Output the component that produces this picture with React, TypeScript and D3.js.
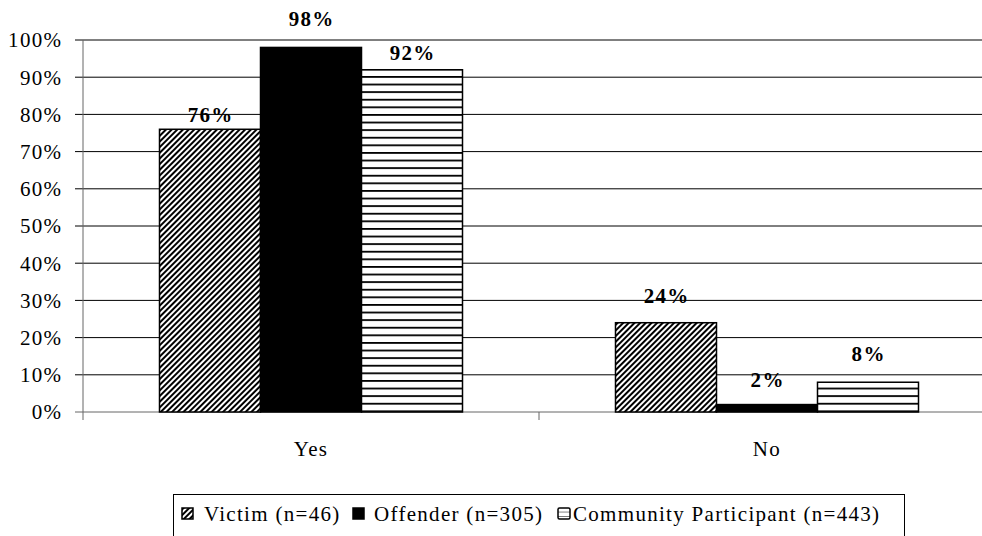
import React from "react";
import * as d3 from "d3";

const categories = ["Yes", "No"];
const seriesNames = ["Victim (n=46)", "Offender (n=305)", "Community Participant (n=443)"];
const victimValues = [76, 24];
const offenderValues = [98, 2];
const communityValues = [92, 8];
const yTicks = [0, 10, 20, 30, 40, 50, 60, 70, 80, 90, 100];
// vertical gap between the bar top and its label baseline (Excel-style placement)
const labelGaps = [[7, 20], [21, 18], [10, 21]];

const W = 982;
const H = 536;
const margin = { left: 83, right: -13, top: 40, bottom: 124 };
const FONT = "Liberation Serif, Times New Roman, DejaVu Serif, serif";
const LS = 1.3;

export default function App() {
  const series = [victimValues, offenderValues, communityValues];
  const fills = ["url(#diag)", "#000", "url(#horiz)"];
  const x0 = d3.scaleBand().domain(categories).range([margin.left, W - margin.right]).paddingInner(0).paddingOuter(0);
  const inner = d3.scaleBand().domain(seriesNames).range([76.5, x0.bandwidth() - 76.5]);
  const y = d3.scaleLinear().domain([0, 100]).range([H - margin.bottom, margin.top]);
  const x1 = W - margin.right;
  const legendBoxes = [182, 353, 558];
  const legendTexts = [204, 374, 573];

  return (
    <svg width={W} height={H} style={{ position: "absolute", left: 0, top: 0, background: "#fff" }}>
      <defs>
        <pattern id="diag" patternUnits="userSpaceOnUse" width="4" height="4" patternTransform="rotate(45)">
          <rect width="4" height="4" fill="#fff" />
          <rect width="2" height="4" fill="#000" />
        </pattern>
        <pattern id="horiz" patternUnits="userSpaceOnUse" width="8" height="7.6">
          <rect width="8" height="7.6" fill="#fff" />
          <rect y="0" width="8" height="1.8" fill="#000" />
        </pattern>
        <pattern id="horizLeg" patternUnits="userSpaceOnUse" width="4" height="4.5" y="508">
          <rect width="4" height="4.5" fill="#fff" />
          <rect y="4" width="4" height="1.5" fill="#000" />
        </pattern>
      </defs>
      {yTicks.map((t) => (
        <g key={t}>
          <line x1={margin.left - 8} x2={x1} y1={y(t)} y2={y(t)} stroke={t === 0 ? "#666" : "#000"} strokeWidth={1} />
          <text x={61 + LS} y={y(t)} dy="0.35em" textAnchor="end" fontSize={21} letterSpacing={LS} fontFamily={FONT}>{t}%</text>
        </g>
      ))}
      <line x1={margin.left} x2={margin.left} y1={margin.top} y2={y(0) + 8} stroke="#666" strokeWidth={1} />
      {categories.map((c) => (
        <line key={c} x1={(x0(c) as number) + x0.bandwidth()} x2={(x0(c) as number) + x0.bandwidth()} y1={y(0)} y2={y(0) + 8} stroke="#666" />
      ))}
      {series.map((vals, si) => (
        <g key={si}>
          {categories.map((c, ci) => {
            const bx = (x0(c) as number) + (inner(seriesNames[si]) as number);
            const by = y(vals[ci]);
            return (
              <g key={c}>
                <rect x={bx} y={by} width={inner.bandwidth()} height={y(0) - by} fill={fills[si]} stroke="#000" strokeWidth={1.5} />
                <text x={bx + inner.bandwidth() / 2 + LS / 2} y={by - labelGaps[si][ci]} textAnchor="middle" fontSize={21} letterSpacing={LS} fontWeight="bold" fontFamily={FONT}>{vals[ci]}%</text>
              </g>
            );
          })}
        </g>
      ))}
      {categories.map((c) => (
        <text key={c} x={(x0(c) as number) + x0.bandwidth() / 2} y={456} textAnchor="middle" fontSize={21} letterSpacing={LS} fontFamily={FONT}>{c}</text>
      ))}
      <rect x={173.5} y={494.5} width={731} height={50} fill="none" stroke="#000" strokeWidth={1} />
      {seriesNames.map((n, i) => (
        <g key={n}>
          {i === 2 ? (
            <rect x={legendBoxes[i]} y={508} width={12} height={11} rx={1.5} fill="url(#horizLeg)" stroke="#000" strokeWidth={1.5} />
          ) : (
            <rect x={legendBoxes[i]} y={508} width={11} height={11} fill={fills[i]} stroke="#000" strokeWidth={1.5} />
          )}
          <text x={legendTexts[i]} y={521} fontSize={21} letterSpacing={LS} fontFamily={FONT}>{n}</text>
        </g>
      ))}
    </svg>
  );
}
